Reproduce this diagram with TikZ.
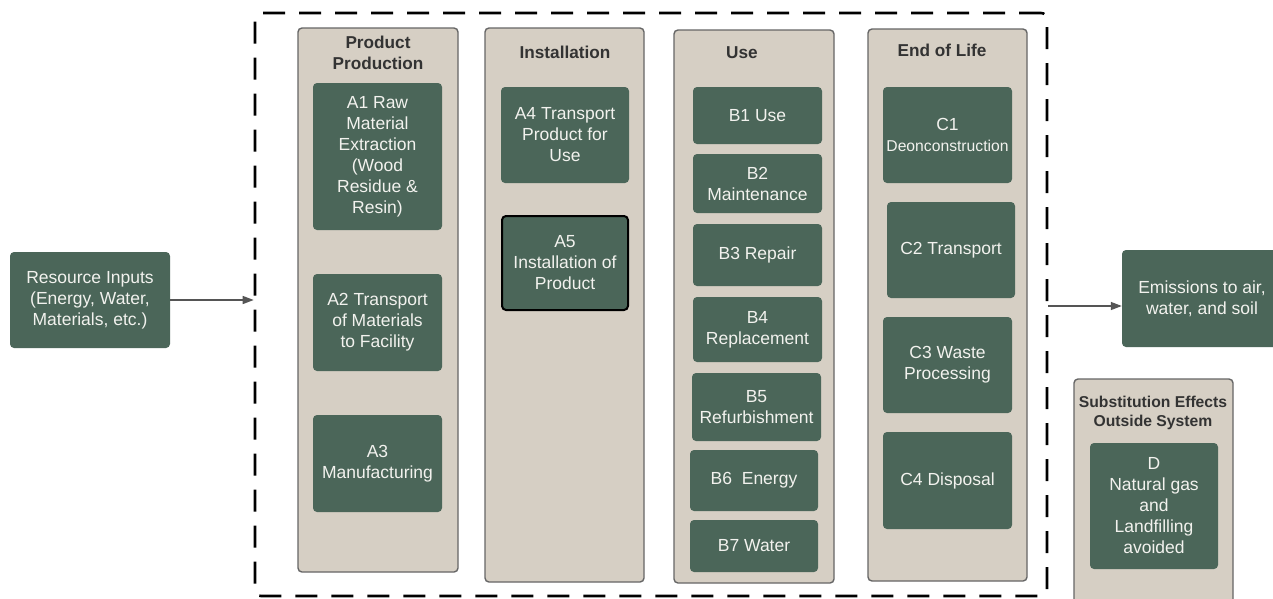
\documentclass[tikz,border=0pt]{standalone}
\usepackage{fontspec}
\setmainfont{Liberation Sans}
\usetikzlibrary{arrows.meta}
\definecolor{boxgreen}{HTML}{4B6659}
\definecolor{beige}{HTML}{D6CFC4}
\definecolor{colborder}{HTML}{666666}
\definecolor{boxtext}{HTML}{F2F2EE}
\definecolor{titletext}{HTML}{333333}
\definecolor{arrowgray}{HTML}{555555}
\tikzset{
  col/.style={draw=colborder, fill=beige, line width=1.4pt, rounded corners=4pt, inner sep=0pt},
  gbox/.style={fill=boxgreen, rounded corners=4pt, text=boxtext, align=center, inner sep=0pt,
    font=\fontsize{17.5}{21}\selectfont},
  coltitle/.style={font=\bfseries\fontsize{17.2}{21}\selectfont, text=titletext, align=center, inner sep=0pt},
  frame/.style={draw=black, line width=2.6pt, dash pattern=on 22pt off 14pt, rounded corners=6pt, inner sep=0pt},
  arr/.style={draw=arrowgray, line width=1.3pt, -{Triangle[length=11pt,width=8pt]}},
}
\begin{document}
\begin{tikzpicture}[x=1pt,y=-1pt]
\clip (0,0) rectangle (1273,598);
\fill[white] (0,0) rectangle (1273,598);

% system boundary
\node[frame, minimum width=792, minimum height=583] (frame) at (651,304.5) {};

% columns
\node[col, minimum width=160, minimum height=544] (pp) at (378,300) {};
\node[col, minimum width=159, minimum height=554] (inst) at (564.5,305) {};
\node[col, minimum width=160, minimum height=553] (use) at (754,306.5) {};
\node[col, minimum width=159, minimum height=552] (eol) at (947.5,305) {};
\node[col, minimum width=159, minimum height=240] (sub) at (1153.5,499) {};

% column titles
\node[coltitle] (ppt) at (378,52.5) {Product\\Production};
\node[coltitle] (instt) at (565,52) {Installation};
\node[coltitle] (uset) at (742,53) {Use};
\node[coltitle] (eolt) at (942,50) {End of Life};
\node[coltitle, font=\bfseries\fontsize{15.7}{18.5}\selectfont] (subt) at (1153,413) {Substitution Effects\\Outside System};

% Product production
\node[gbox, minimum width=129, minimum height=147] (a1) at (377.5,156.5) {A1 Raw\\Material\\Extraction\\(Wood\\Residue \&\\Resin)};
\node[gbox, minimum width=129, minimum height=97] (a2) at (377.5,322.5) {A2 Transport\\of Materials\\to Facility};
\node[gbox, minimum width=129, minimum height=97] (a3) at (377.5,463.5) {A3\\Manufacturing};

% Installation
\node[gbox, minimum width=128, minimum height=96] (a4) at (565,135) {A4 Transport\\Product for\\Use};
\node[gbox, draw=black, line width=2pt, minimum width=126, minimum height=94] (a5) at (565,263) {A5\\Installation of\\Product};

% Use
\node[gbox, minimum width=129, minimum height=57] (b1) at (757.5,115.5) {B1 Use};
\node[gbox, minimum width=129, minimum height=59] (b2) at (757.5,183.5) {B2\\Maintenance};
\node[gbox, minimum width=129, minimum height=62] (b3) at (757.5,255) {B3 Repair};
\node[gbox, minimum width=129, minimum height=65] (b4) at (757.5,329.5) {B4\\Replacement};
\node[gbox, minimum width=129, minimum height=68] (b5) at (756.5,407) {B5\\Refurbishment};
\node[gbox, minimum width=128, minimum height=61] (b6) at (754,480.5) {B6\ \ Energy};
\node[gbox, minimum width=128, minimum height=52] (b7) at (754,546) {B7 Water};

% End of life
\node[gbox, minimum width=129, minimum height=96] (c1) at (947.5,135) {C1\\{\fontsize{15.7}{19}\selectfont Deonconstruction}};
\node[gbox, minimum width=128, minimum height=96] (c2) at (951,250) {C2 Transport};
\node[gbox, minimum width=129, minimum height=96] (c3) at (947.5,365) {C3 Waste\\Processing};
\node[gbox, minimum width=129, minimum height=97] (c4) at (947.5,480.5) {C4 Disposal};

% Substitution
\node[gbox, minimum width=128, minimum height=126] (d) at (1154,506) {D\\Natural gas\\and\\Landfilling\\avoided};

% inputs / outputs
\node[gbox, minimum width=160, minimum height=96] (res) at (90,300) {Resource Inputs\\(Energy, Water,\\Materials, etc.)};
\node[gbox, minimum width=160, minimum height=97] (em) at (1202,298.5) {Emissions to air,\\water, and soil};

\coordinate (outstart) at (frame.east |- 0,306);
\draw[arr] (res.east) -- (res.east -| frame.west);
\draw[arr] (outstart) -- (outstart -| em.west);
\end{tikzpicture}
\end{document}
